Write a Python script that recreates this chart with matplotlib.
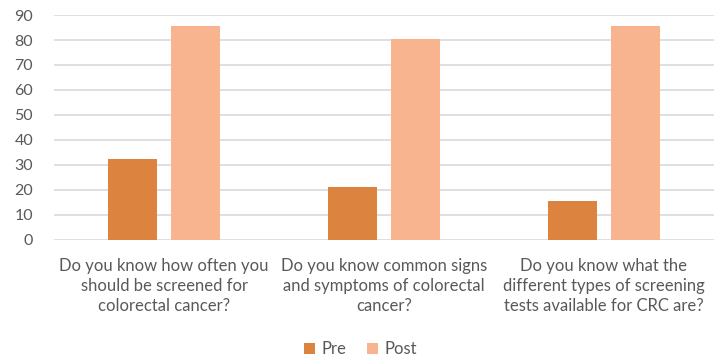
import numpy as np
import matplotlib
matplotlib.use("Agg")
import matplotlib.pyplot as plt

questions = [
    "Do you know how often you\nshould be screened for\ncolorectal cancer?",
    "Do you know common signs\nand symptoms of colorectal\ncancer?",
    "Do you know what the\ndifferent types of screening\ntests available for CRC are?",
]
pre = [32.5, 21, 15.5]
post = [85.5, 80.5, 85.5]
y_ticks = [0, 10, 20, 30, 40, 50, 60, 70, 80, 90]

plt.rcParams['font.family'] = ['Lato', 'DejaVu Sans']

fig = plt.figure(figsize=(7.21, 3.58), dpi=100)
ax = fig.add_axes([0.075, 0.330, 0.915, 0.628])

x = np.arange(len(questions))
w = 0.223
off = 0.142
ax.bar(x - off, pre, w, color='#DC843F', label='Pre', zorder=3)
ax.bar(x + off, post, w, color='#F8B48E', label='Post', zorder=3)

ax.set_xlim(-0.5, len(questions) - 0.5)
ax.set_ylim(0, 90)
ax.set_yticks(y_ticks)
ax.yaxis.grid(True, color='#d9d9d9', linewidth=1.2, zorder=0)
ax.set_xticks(x)
ax.set_xticklabels(questions, fontsize=12, color='#595959', linespacing=1.33)
ax.tick_params(axis='y', labelsize=11.5, labelcolor='#595959', length=0, pad=15)
ax.tick_params(axis='x', length=0, pad=13)
for s in ax.spines.values():
    s.set_visible(False)

fig.legend(loc='center', bbox_to_anchor=(0.5, 0.025), ncol=2, frameon=False,
           fontsize=12, labelcolor='#595959', handlelength=0.65, handleheight=0.65,
           handletextpad=0.4, columnspacing=1.2)

fig.savefig('out.png', dpi=100)
